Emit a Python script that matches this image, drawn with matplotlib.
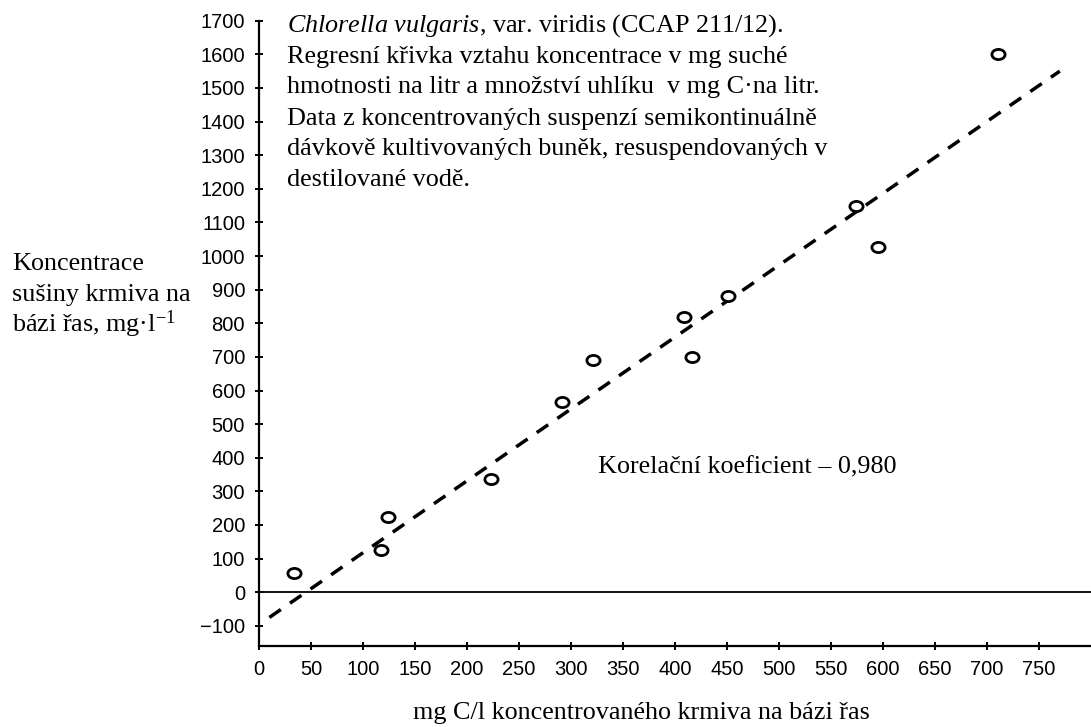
import matplotlib
matplotlib.use("Agg")
import matplotlib.pyplot as plt
from matplotlib.path import Path
from matplotlib.transforms import Affine2D

# values
carbon_mg = [34, 117, 124, 223, 291, 321, 409, 416, 451, 574, 595, 711]
dry_mass_mg = [57, 126, 224, 338, 566, 690, 820, 700, 881, 1148, 1028, 1602]

# regression line end points
fit_x = [10, 770]
fit_y = [-75, 1550]

x_ticks = list(range(0, 751, 50))
y_ticks = list(range(-100, 1701, 100))

note_lines = [
    r"$\mathit{Chlorella\ vulgaris}$, var. viridis (CCAP 211/12).",
    "Regresní křivka vztahu koncentrace v mg suché",
    "hmotnosti na litr a množství uhlíku  v mg C·na litr.",
    "Data z koncentrovaných suspenzí semikontinuálně",
    "dávkově kultivovaných buněk, resuspendovaných v",
    "destilované vodě.",
]

plt.rcParams['mathtext.fontset'] = 'custom'
plt.rcParams['mathtext.rm'] = 'Liberation Serif'
plt.rcParams['mathtext.it'] = 'Liberation Serif:italic'

W, H = 1091, 727
fig = plt.figure(figsize=(W / 100, H / 100), dpi=100)
ax = fig.add_axes([259 / W, (H - 646) / H, (W - 259) / W, (646 - 20.7) / H])

ax.set_xlim(0, 800)
ax.set_ylim(-160, 1700)

# slightly flattened open circles, like the scanned markers
ellipse = Path.unit_circle().transformed(Affine2D().scale(1.3, 1.0))
ax.plot(carbon_mg, dry_mass_mg, linestyle='none', marker=ellipse,
        markersize=9.5, markerfacecolor='white', markeredgecolor='black',
        markeredgewidth=2.0, zorder=3)
ax.plot(fit_x, fit_y, color='black', linewidth=2.5,
        linestyle=(0, (4.0, 3.2)), zorder=2)
ax.axhline(0, color='black', linewidth=1.3, zorder=1)

for side in ['top', 'right']:
    ax.spines[side].set_visible(False)
for side in ['left', 'bottom']:
    ax.spines[side].set_linewidth(1.6)

ax.set_xticks(x_ticks)
ax.set_yticks(y_ticks)
ax.set_yticklabels([str(v).replace('-', '\u2212') for v in y_ticks])
ax.tick_params(direction='inout', length=6, width=1.4,
               labelsize=14.5, pad=7)
for lab in ax.get_xticklabels() + ax.get_yticklabels():
    lab.set_family('Liberation Sans')

serif = 'Liberation Serif'
text_size = 18.8
x0, y0, dy = 287, 31.5, 31.0
for i, line in enumerate(note_lines):
    fig.text(x0 / W, 1 - (y0 + i * dy) / H, line, family=serif,
             fontsize=text_size, va='baseline', ha='left')

ylabel_lines = ["Koncentrace", "sušiny krmiva na", r"bázi řas, mg·l$^{-1}$"]
for i, line in enumerate(ylabel_lines):
    fig.text(12 / W, 1 - (270 + i * 31) / H, line, family=serif,
             fontsize=text_size, va='baseline', ha='left')

fig.text(598 / W, 1 - 473 / H, "Korelační koeficient – 0,980",
         family=serif, fontsize=text_size, va='baseline', ha='left')

fig.text(641 / W, 1 - 719 / H, "mg C/l koncentrovaného krmiva na bázi řas",
         family=serif, fontsize=text_size, va='baseline', ha='center')

fig.savefig("out.png", dpi=100)
